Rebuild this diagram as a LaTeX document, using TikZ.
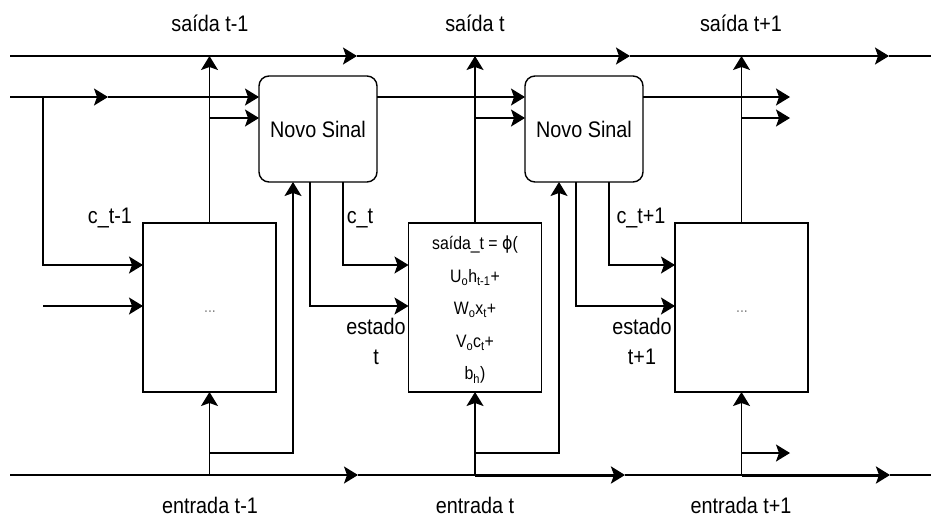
\documentclass[tikz,border=0pt]{standalone}
\usepackage{fontspec}
\setmainfont{Liberation Sans}[FakeStretch=0.88]
\newfontfamily\greekfont{DejaVu Sans}[FakeStretch=0.88]
\usetikzlibrary{arrows.meta}

\begin{document}
\begin{tikzpicture}[x=1pt,y=-1pt,
  line width=1.4pt,
  arrowtip/.style={-{Stealth[length=14pt 0 0,width=17pt 0 0,inset=3pt 0]}},
  heavy/.style={line width=3pt},
  cell/.style={draw, rectangle, minimum width=133pt, minimum height=169pt,
    outer sep=0pt, inner sep=0pt},
  signal/.style={draw, rectangle, rounded corners=10pt, minimum width=118pt,
    minimum height=106pt, outer sep=0pt, font=\fontsize{22.5}{26}\selectfont},
  lbl/.style={inner sep=0pt, font=\fontsize{22.5}{26}\selectfont},
  formula/.style={inner sep=0pt, align=center, font=\fontsize{18}{32.5}\selectfont},
  dots/.style={inner sep=0pt, text=gray, font=\fontsize{16}{18}\selectfont}
]
\useasboundingbox (0,0) rectangle (931,517);

% --- blocks -------------------------------------------------------------
\node[signal] (ns1) at (318,129) {Novo Sinal};
\node[signal] (ns2) at (584,129) {Novo Sinal};
\node[cell] (b1) at (209.5,307.5) {};
\node[cell] (b2) at (475,307.5) {};
\node[cell] (b3) at (741.5,307.5) {};

\node[dots] (d1) at (210,312) {...};
\node[dots] (d3) at (742,312) {...};
\node[formula] (f2) at (475,310) {%
  saída\_t = {\greekfont ϕ}(\\
  U\textsubscript{o}h\textsubscript{t-1}+\\
  W\textsubscript{o}x\textsubscript{t}+\\
  V\textsubscript{o}c\textsubscript{t}+\\
  b\textsubscript{h})};

% --- text labels ----------------------------------------------------------
\node[lbl] (s1) at (210,23) {saída t-1};
\node[lbl] (s2) at (475,23) {saída t};
\node[lbl] (s3) at (741,23) {saída t+1};
\node[lbl] (e1) at (210,505) {entrada t-1};
\node[lbl] (e2) at (475,505) {entrada t};
\node[lbl] (e3) at (741,505) {entrada t+1};
\node[lbl, anchor=base] (c1) at (110,223) {c\_t-1};
\node[lbl, anchor=base] (c2) at (360,223) {c\_t};
\node[lbl, anchor=base] (c3) at (641,223) {c\_t+1};
\node[lbl, align=center, anchor=north, font=\fontsize{22.5}{30}\selectfont] (st2) at (376,317) {estado\\t};
\node[lbl, align=center, anchor=north, font=\fontsize{22.5}{30}\selectfont] (st3) at (642,317) {estado\\t+1};

% --- output line ----------------------------------------------------------
\coordinate (tl) at (10,56);
\coordinate (ta1) at (357,56);
\coordinate (ta2) at (630,56);
\coordinate (ta3) at (889,56);
\coordinate (tr) at (931,56);
\draw[arrowtip] (tl) -- (ta1);
\draw[arrowtip] (ta1) -- (ta2);
\draw[arrowtip] (ta2) -- (ta3);
\draw (ta3) -- (tr);

% --- input line -----------------------------------------------------------
\coordinate (bl) at (10,475);
\coordinate (ba1) at (358,475);
\coordinate (ba2) at (625,475);
\coordinate (ba3) at (890,475);
\coordinate (br) at (931,475);
\draw[arrowtip] (bl) -- (ba1);
\draw (ba1) -- (b2.south |- bl);
\draw[arrowtip,heavy] (b2.south |- bl) -- (ba2);
\draw (ba2) -- (b3.south |- bl);
\draw[arrowtip,heavy] (b3.south |- bl) -- (ba3);
\draw (ba3) -- (br);

% --- incoming signal line -------------------------------------------------
\coordinate (sl) at (10,97);
\coordinate (sa) at (108,97);
\coordinate (j1) at (43,97);
\coordinate (stub) at (43,306);
\draw[arrowtip] (sl) -- (sa);
\draw[arrowtip] (sa) -- (ns1.west |- sa);
\draw[arrowtip] (j1) |- ([yshift=42.5pt]b1.west);
\draw[arrowtip] (stub) -- ([yshift=1.5pt]b1.west);

% --- cell outputs upwards -------------------------------------------------
\draw[arrowtip] (b1.north) -- (b1.north |- tl);
\draw[arrowtip] (b2.north) -- (b2.north |- tl);
\draw[arrowtip] (b3.north) -- (b3.north |- tl);

\coordinate (j2) at (210,118);
\coordinate (j3) at (475,118);
\coordinate (j4) at (742,118);
\coordinate (o1) at (790,97);
\coordinate (o2) at (790,118);
\draw[arrowtip] (j2) -- (ns1.west |- j2);
\draw[arrowtip] (ns1.east |- sa) -- (ns2.west |- sa);
\draw[arrowtip] (j3) -- (ns2.west |- j3);
\draw[arrowtip] (ns2.east |- sa) -- (o1);
\draw[arrowtip] (j4) -- (o2);

% --- new signal into the next cell ----------------------------------------
\draw[arrowtip] ([xshift=25pt]ns1.south) |- ([yshift=42.5pt]b2.west);
\draw[arrowtip] ([xshift=-8pt]ns1.south) |- ([yshift=1.5pt]b2.west);
\draw[arrowtip] ([xshift=25pt]ns2.south) |- ([yshift=42.5pt]b3.west);
\draw[arrowtip] ([xshift=-8pt]ns2.south) |- ([yshift=1.5pt]b3.west);

% --- inputs upwards -------------------------------------------------------
\draw[arrowtip] (b1.south |- bl) -- (b1.south);
\draw[arrowtip] (b2.south |- bl) -- (b2.south);
\draw[arrowtip] (b3.south |- bl) -- (b3.south);

\coordinate (k1) at (210,453);
\coordinate (k2) at (475,453);
\coordinate (k3) at (742,453);
\coordinate (ko) at (790,453);
\draw[arrowtip] (k1) -| ([xshift=-25pt]ns1.south);
\draw[arrowtip] (k2) -| ([xshift=-25pt]ns2.south);
\draw[arrowtip] (k3) -- (ko);
\end{tikzpicture}
\end{document}
